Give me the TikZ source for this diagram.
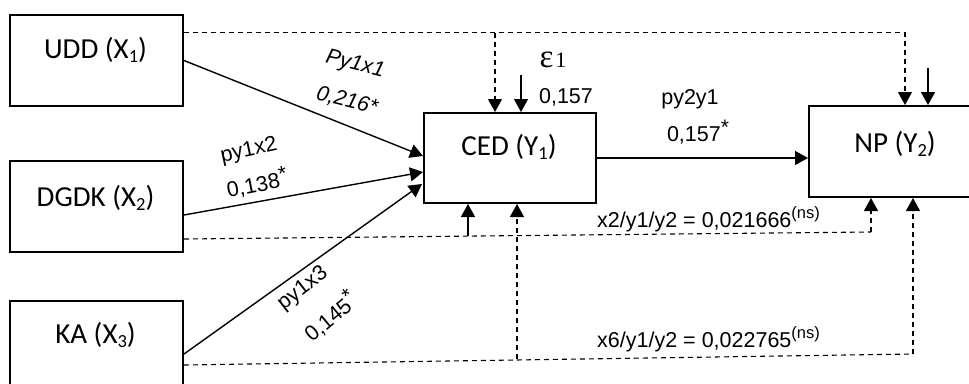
\documentclass[tikz,border=0pt]{standalone}
\usepackage{fontspec}
\setmainfont{Liberation Sans}
\newfontfamily\boxfont{Carlito}
\newfontfamily\serifont{Liberation Serif}
\usetikzlibrary{arrows.meta}
\newcommand\bsub[1]{\raisebox{-3.5pt}{\fontsize{18.5}{18.5}\selectfont #1}}
\newcommand\esup[1]{\raisebox{9pt}{\fontsize{16.5}{16.5}\selectfont #1}}
\newcommand\myast{\raisebox{6.5pt}{\fontsize{21}{21}\selectfont *}}
\tikzset{
  var/.style={draw, line width=2pt, minimum width=173pt, minimum height=91pt, inner sep=0pt, anchor=north west},
  vlab/.style={font=\boxfont\fontsize{29}{34}\selectfont, inner sep=0pt},
  elab/.style={font=\fontsize{21.5}{25}\selectfont, inner sep=0pt},
  tipped/.style={-{Triangle[length=13pt,width=14pt]}},
  sol/.style={line width=1.4pt},
  dsh/.style={line width=1.1pt, dash pattern=on 5pt off 4pt},
}
\begin{document}
\begin{tikzpicture}[x=1pt,y=-1pt]
\useasboundingbox (0,0) rectangle (969,383);
\clip (0,0) rectangle (969,383);
\fill[white] (0,0) rectangle (969,383);
% boxes
\node[var] (udd) at (9,14) {};
\node[var] (dgdk) at (9,160) {};
\node[var] (ka) at (9,300) {};
\node[var, minimum width=172pt, minimum height=90pt] (ced) at (423,112) {};
\node[var] (np) at (808,105) {};
% box labels
\node[vlab] (uddl) at (95.5,50) {UDD (X\bsub{1})};
\node[vlab] (dgdkl) at (95.5,198) {DGDK (X\bsub{2})};
\node[vlab] (kal) at (95.5,335) {KA (X\bsub{3})};
\node[vlab] (cedl) at (509,147) {CED (Y\bsub{1})};
\node[vlab] (npl) at (895,144) {NP (Y\bsub{2})};
% solid paths into CED
\draw[sol,tipped] (udd.east) -- ([yshift=2pt]ced.west);
\draw[sol,tipped] ([yshift=-8.5pt]dgdk.east) -- ([yshift=-14pt]ced.west);
\draw[sol,tipped] ([yshift=-7.5pt]ka.east) -- ([xshift=-1pt,yshift=-26pt]ced.west);
% CED -> NP
\draw[sol,tipped] (ced.east) -- (ced.east -| np.west);
% top dashed
\coordinate (tl) at ([yshift=28pt]udd.east);
\draw[dsh,tipped] (tl) -| ([xshift=9.5pt]np.north);
\draw[dsh,tipped] ([xshift=-15pt]ced.north |- tl) -- ([xshift=-15pt]ced.north);
% error arrows
\coordinate (eps) at (521,75);
\draw[sol,tipped] (eps) -- (eps |- ced.north);
\coordinate (eps2) at (928,68);
\draw[sol,tipped] (eps2) -- (eps2 |- np.north);
% DGDK dashed to NP
\coordinate (d2) at ([yshift=-32.5pt]dgdk.east);
\coordinate (d2e) at (871,232);
\draw[dsh] (d2) -- (d2e);
\draw[dsh,tipped] (d2e) -- (d2e |- np.south);
\coordinate (d2c) at (468,235.5);
\draw[sol,tipped] (d2c) -- (d2c |- ced.south);
% KA dashed to NP
\coordinate (k2) at ([yshift=-18.5pt]ka.east);
\coordinate (k2e) at (913,354);
\draw[dsh] (k2) -- (k2e);
\draw[dsh,tipped] (k2e) -- (k2e |- np.south);
\coordinate (k2c) at (517,359.4);
\draw[dsh,tipped] (k2c) -- (k2c |- ced.south);
% edge labels
\node[elab, rotate=-14] (l1a) at (355,65) {\itshape Py1x1};
\node[elab, rotate=-14] (l1b) at (347,101) {\itshape 0,216*};
\node[elab, rotate=12] (l2a) at (249,151) {py1x2};
\node[elab, rotate=11] (l2b) at (257,183) {0,138\myast};
\node[elab, rotate=38] (l3a) at (303,289) {py1x3};
\node[elab, rotate=40] (l3b) at (330,316) {0,145\myast};
\node[elab] (l4a) at (690,99) {py2y1};
\node[elab] (l4b) at (698,132) {0,157\myast};
\node[elab] (e1v) at (566,97) {0,157};
\node[inner sep=0pt, font=\serifont] (e1) at (553,60) {{\fontsize{33}{34}\selectfont ε}\,{\fontsize{22}{22}\selectfont 1}};
\node[elab, anchor=base west] (m1) at (597,227) {x2/y1/y2 = 0,021666\esup{(ns)}};
\node[elab, anchor=base west] (m2) at (597,347) {x6/y1/y2 = 0,022765\esup{(ns)}};
\end{tikzpicture}
\end{document}
